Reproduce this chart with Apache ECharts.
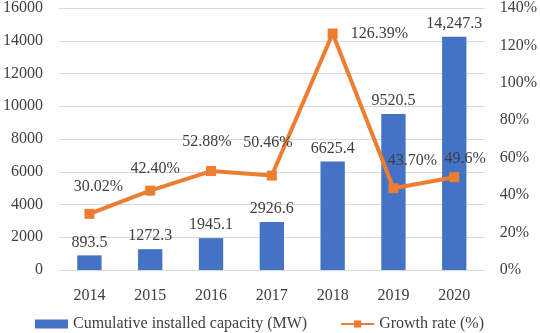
<!DOCTYPE html>
<html>
<head>
<meta charset="utf-8">
<script src="https://cdn.jsdelivr.net/npm/echarts@6/dist/echarts.min.js"></script>
<style>
html,body{margin:0;padding:0;background:#fff;}
#chart{width:540px;height:333px;}
</style>
</head>
<body>
<div id="chart"></div>
<script>
var years = ['2014','2015','2016','2017','2018','2019','2020'];
var capacity = [893.5, 1272.3, 1945.1, 2926.6, 6625.4, 9520.5, 14247.3];
var capacityLabels = ['893.5','1272.3','1945.1','2926.6','6625.4','9520.5','14,247.3'];
var growth = [30.02, 42.40, 52.88, 50.46, 126.39, 43.70, 49.6];
var growthLabels = ['30.02%','42.40%','52.88%','50.46%','126.39%','43.70%','49.6%'];
var seriesNames = ['Cumulative installed capacity (MW)', 'Growth rate (%)'];

var labelPos = ['top','top','top','top','right','top','top'];
var labelOffsets = [[9,-9],[5,-4],[-4,-11],[-4,-15],[0,0],[19,-9],[11,0]];

var FONT = '"Liberation Serif", "Times New Roman", serif';
var TXT = '#404040';

var chart = echarts.init(document.getElementById('chart'), null, {renderer:'canvas'});
chart.setOption({
  animation: false,
  textStyle: {fontFamily: FONT},
  grid: {left: 53, right: 52, top: 5, bottom: 63},
  legend: {
    left: 35, top: 316, padding: 0,
    itemWidth: 33, itemHeight: 9, itemGap: 33,
    textStyle: {fontFamily: FONT, fontSize: 16, color: TXT},
    data: [
      {name: seriesNames[0], icon: 'rect'},
      {name: seriesNames[1]}
    ]
  },
  xAxis: {
    type: 'category',
    data: years,
    axisLine: {show: true, lineStyle: {color: '#d9d9d9'}},
    axisTick: {show: false},
    axisLabel: {fontFamily: FONT, fontSize: 16, color: TXT, margin: 18}
  },
  yAxis: [
    {
      type: 'value', min: 0, max: 16000, interval: 2000,
      axisLine: {show: false}, axisTick: {show: false},
      axisLabel: {fontFamily: FONT, fontSize: 16, color: TXT, margin: 16,
        formatter: function(v){ return String(v); }},
      splitLine: {lineStyle: {color: '#d9d9d9', width: 1}}
    },
    {
      type: 'value', min: 0, max: 140, interval: 20,
      axisLine: {show: false}, axisTick: {show: false},
      axisLabel: {fontFamily: FONT, fontSize: 16, color: TXT, margin: 15, formatter: '{value}%'},
      splitLine: {show: false}
    }
  ],
  series: [
    {
      name: seriesNames[0],
      type: 'bar',
      yAxisIndex: 0,
      barWidth: '40%',
      itemStyle: {color: '#4472C4'},
      label: {
        show: true, position: 'top', distance: 5,
        fontFamily: FONT, fontSize: 16, color: TXT,
        formatter: function(p){ return capacityLabels[p.dataIndex]; }
      },
      data: capacity,
      z: 2
    },
    {
      name: seriesNames[1],
      type: 'line',
      yAxisIndex: 1,
      symbol: 'rect',
      symbolSize: 10,
      lineStyle: {color: '#ED7D31', width: 4},
      itemStyle: {color: '#ED7D31'},
      data: growth.map(function(v, i){
        return {
          value: v,
          label: {
            show: true,
            position: labelPos[i],
            distance: labelPos[i] === 'right' ? 13 : 5,
            offset: labelOffsets[i],
            fontFamily: FONT, fontSize: 16, color: TXT,
            formatter: growthLabels[i]
          }
        };
      }),
      z: 3
    }
  ]
});
</script>
</body>
</html>
